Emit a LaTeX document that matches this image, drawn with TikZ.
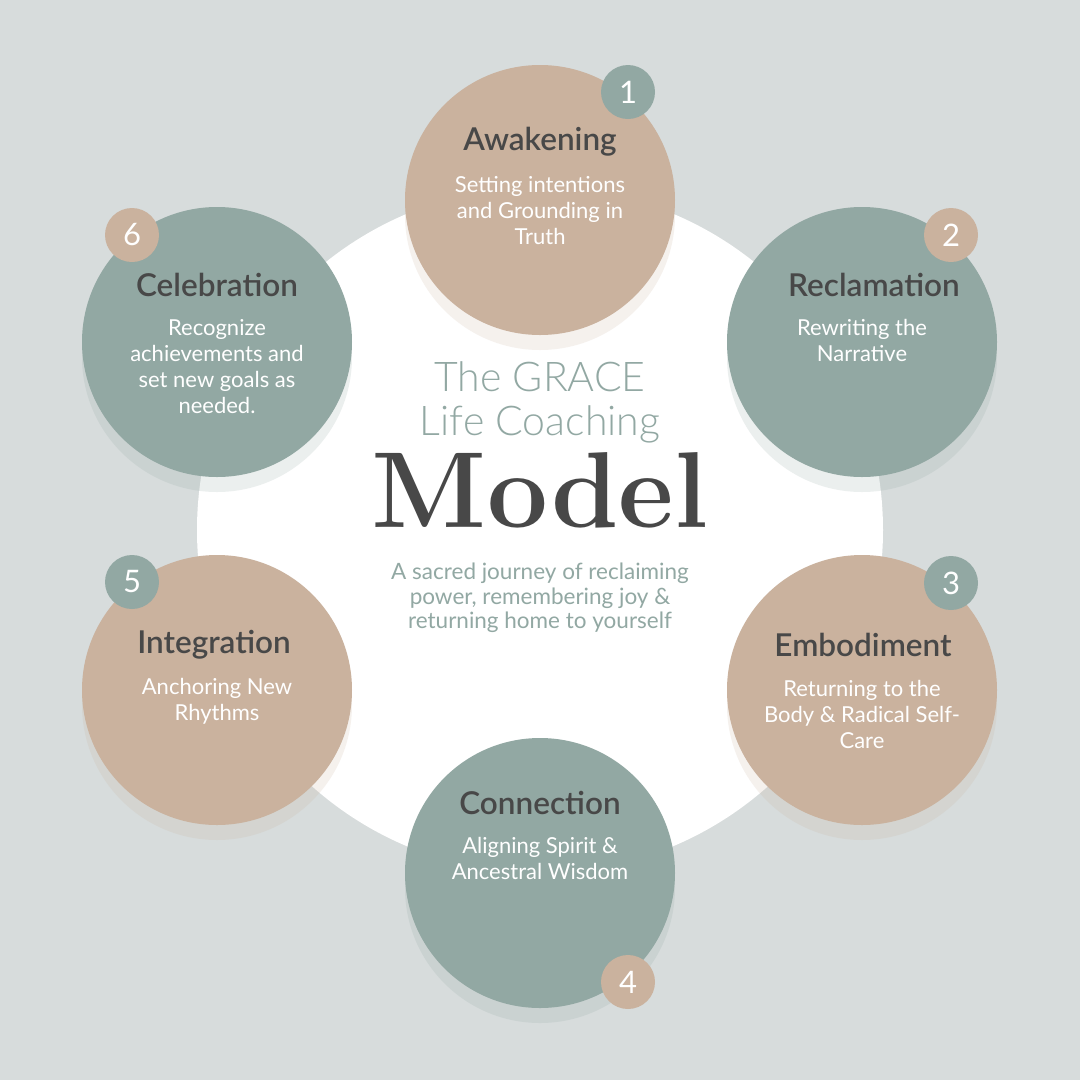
\documentclass[tikz,border=0pt]{standalone}
\usepackage{fontspec}
\newfontfamily\sansreg{Lato}
\newfontfamily\sanssemi{Lato Semibold}
\newfontfamily\sanslight{Lato Light}
\definecolor{bg}{HTML}{D7DCDC}
\definecolor{tan}{HTML}{CAB29E}
\definecolor{teal}{HTML}{92A8A3}
\definecolor{ink}{HTML}{484848}
\tikzset{
  stage/.style={circle, minimum size=270pt, inner sep=0pt},
  shade/.style={circle, minimum size=270pt, inner sep=0pt, opacity=0.18},
  badge/.style={circle, minimum size=54pt, inner sep=0pt, text=white, font=\sansreg\fontsize{31}{31}\selectfont},
  ttl/.style={text=ink, font=\sanssemi\fontsize{31.5}{31.5}\selectfont, inner sep=0pt},
  sub/.style={text=white, align=center, font=\sansreg\fontsize{22}{26}\selectfont, inner sep=0pt},
}
\begin{document}
\begin{tikzpicture}[x=1pt,y=-1pt]
\fill[bg] (0,0) rectangle (1080,1080);
\useasboundingbox (0,0) rectangle (1080,1080);
\node[circle, fill=white, minimum size=686pt, inner sep=0pt] (hub) at (540,530) {};
% shadows
\node[shade, fill=tan]  (s1) at (540,215) {};
\node[shade, fill=teal] (s2) at (862,357) {};
\node[shade, fill=tan]  (s3) at (862,705) {};
\node[shade, fill=teal] (s4) at (540,888) {};
\node[shade, fill=tan]  (s5) at (217,705) {};
\node[shade, fill=teal] (s6) at (217,357) {};
% stages
\node[stage, fill=tan]  (c1) at (540,200) {};
\node[stage, fill=teal] (c2) at (862,342) {};
\node[stage, fill=tan]  (c3) at (862,690) {};
\node[stage, fill=teal] (c4) at (540,873) {};
\node[stage, fill=tan]  (c5) at (217,690) {};
\node[stage, fill=teal] (c6) at (217,342) {};
% badges
\node[badge, fill=teal] (b1) at (628,92) {1};
\node[badge, fill=tan]  (b2) at (951,235) {2};
\node[badge, fill=teal] (b3) at (951,583) {3};
\node[badge, fill=tan]  (b4) at (628,982) {4};
\node[badge, fill=teal] (b5) at (132,582) {5};
\node[badge, fill=tan]  (b6) at (132,235) {6};
% titles
\node[ttl] (t1) at (540,142) {Awakening};
\node[ttl] (t2) at (874,285) {Reclamation};
\node[ttl] (t3) at (863,645) {Embodiment};
\node[ttl] (t4) at (540,803) {Connection};
\node[ttl] (t5) at (214,645) {Integration};
\node[ttl] (t6) at (217,285) {Celebration};
% descriptions
\node[sub] (d1) at (540,211) {Setting intentions\\and Grounding in\\Truth};
\node[sub] (d2) at (862,340) {Rewriting the\\Narrative};
\node[sub] (d3) at (862,714) {Returning to the\\Body \& Radical Self-\\Care};
\node[sub] (d4) at (540,858) {Aligning Spirit \&\\Ancestral Wisdom};
\node[sub] (d5) at (217,701) {Anchoring New\\Rhythms};
\node[sub] (d6) at (217,367) {Recognize\\achievements and\\set new goals as\\needed.};
% centre
\node[anchor=base, inner sep=0pt, text=teal, font=\sanslight\fontsize{41}{45}\selectfont] (g1) at (540,391) {The GRACE};
\node[anchor=base, inner sep=0pt, text=teal, font=\sanslight\fontsize{41}{45}\selectfont] (g2) at (540,435) {Life Coaching};
\node[anchor=base, inner sep=0pt, text=ink, font=\rmfamily\bfseries\fontsize{108}{108}\selectfont] (g3) at (540,527) {Model};
\node[sub, text=teal, font=\sansreg\fontsize{22.5}{24.5}\selectfont] (g4) at (540,598) {A sacred journey of reclaiming\\power, remembering joy \&\\returning home to yourself};
\end{tikzpicture}
\end{document}
